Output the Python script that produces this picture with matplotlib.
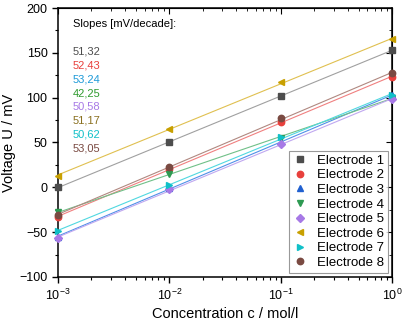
import numpy as np
import matplotlib.pyplot as plt
from matplotlib.ticker import LogLocator, MultipleLocator, NullFormatter

plt.rcParams['font.family'] = ['Liberation Sans', 'DejaVu Sans']

conc = [1e-3, 1e-2, 1e-1, 1e0]
labels = ['Electrode 1', 'Electrode 2', 'Electrode 3', 'Electrode 4',
          'Electrode 5', 'Electrode 6', 'Electrode 7', 'Electrode 8']
volts = [
    [0, 50, 102, 153],
    [-33, 20, 73, 123],
    [-55, -1, 50, 103],
    [-28, 15, 55, 100],
    [-57, -2, 48, 98],
    [13, 65, 117, 165],
    [-49, 3, 56, 103],
    [-31, 23, 77, 127],
]
slopes = ['51,32', '52,43', '53,24', '42,25', '50,58', '51,17', '50,62', '53,05']

markers = ['s', 'o', '^', 'v', 'D', '<', '>', 'o']
colors = ['#4d4d4d', '#e8403c', '#2060d0', '#2e9a52', '#a779e6',
          '#c8a000', '#10c0c8', '#7a4a42']
line_colors = ['#a0a0a0', '#f08080', '#5090e8', '#70c088', '#c0a8f0',
               '#e0c050', '#50d8e0', '#b08880']
text_colors = ['#4d4d4d', '#e8403c', '#1e9ad8', '#2e9a2e', '#a779e6',
               '#8a7020', '#10c0c8', '#7a4a42']

fig = plt.figure(figsize=(4.05, 3.22), dpi=100)
ax = fig.add_axes([0.143, 0.14, 0.825, 0.835])

xx = np.log10(conc)
for i in range(len(labels)):
    k, b = np.polyfit(xx, volts[i], 1)
    ax.plot([conc[0], conc[-1]], [k * xx[0] + b, k * xx[-1] + b],
            color=line_colors[i], lw=0.8, zorder=2)
    ms = 3.8 if markers[i] == 'D' else 4.6
    ax.plot(conc, volts[i], ls='none', marker=markers[i], color=colors[i],
            ms=ms, label=labels[i], zorder=3, clip_on=False)

ax.set_xscale('log')
ax.set_xlim(1e-3, 1e0)
ax.set_ylim(-100, 200)
ax.yaxis.set_major_locator(MultipleLocator(50))
ax.yaxis.set_minor_locator(MultipleLocator(25))
ax.xaxis.set_major_locator(LogLocator(base=10, numticks=10))
ax.xaxis.set_minor_locator(LogLocator(base=10, subs=np.arange(2, 10), numticks=20))
ax.xaxis.set_minor_formatter(NullFormatter())

ax.tick_params(which='both', direction='out', labelsize=9, top=False, right=False)
ax.tick_params(which='major', length=4, width=1)
ax.tick_params(which='minor', length=2.5, width=0.8)
for s in ax.spines.values():
    s.set_linewidth(1.1)

# inward ticks on top and right
ax2 = ax.secondary_xaxis('top')
ax2.tick_params(which='both', direction='in', labeltop=False)
ax2.tick_params(which='major', length=4)
ax2.tick_params(which='minor', length=2.5)
ax2.xaxis.set_major_locator(LogLocator(base=10, numticks=10))
ax2.xaxis.set_minor_locator(LogLocator(base=10, subs=np.arange(2, 10), numticks=20))
ax2.set_xticklabels([])
ax3 = ax.secondary_yaxis('right')
ax3.tick_params(which='both', direction='in', labelright=False)
ax3.tick_params(which='major', length=4)
ax3.tick_params(which='minor', length=2.5)
ax3.yaxis.set_major_locator(MultipleLocator(50))
ax3.yaxis.set_minor_locator(MultipleLocator(25))
ax3.set_yticklabels([])

ax.set_xlabel('Concentration c / mol/l', fontsize=10.5, labelpad=3)
ax.set_ylabel('Voltage U / mV', fontsize=10.5, labelpad=2)

ax.text(0.045, 0.94, 'Slopes [mV/decade]:', transform=ax.transAxes,
        fontsize=8, va='center', ha='left')
for i, s in enumerate(slopes):
    ax.text(0.045, 0.84 - i * 0.052, s, transform=ax.transAxes,
            fontsize=8, va='center', ha='left', color=text_colors[i])

leg = ax.legend(loc='lower right', fontsize=9.5, frameon=True, fancybox=False,
                edgecolor='#808080', handlelength=1.0, handletextpad=0.8,
                labelspacing=0.18, borderpad=0.3, borderaxespad=0.3,
                markerscale=1.0)
leg.get_frame().set_linewidth(0.8)

fig.savefig('out.png', dpi=100)
